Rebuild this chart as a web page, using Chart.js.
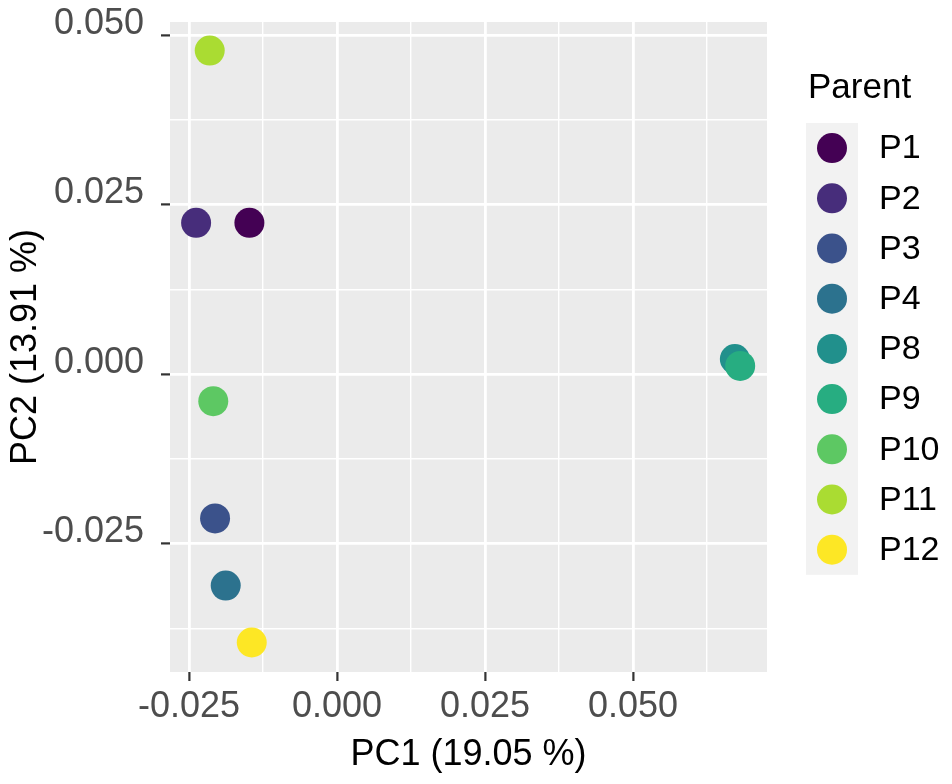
<!DOCTYPE html>
<html>
<head>
<meta charset="utf-8">
<script src="https://cdn.jsdelivr.net/npm/chart.js@4.4.1/dist/chart.umd.min.js"></script>
<style>
  html, body { margin: 0; padding: 0; background: #ffffff; }
  #wrap { width: 952px; height: 784px; position: relative; }
</style>
</head>
<body>
<div id="wrap"><canvas id="c" width="952" height="784"></canvas></div>
<script>
// ---- Data ----
const parents = ['P1', 'P2', 'P3', 'P4', 'P8', 'P9', 'P10', 'P11', 'P12'];
const pc1 = [-0.0148, -0.0238, -0.0206, -0.0188, 0.0672, 0.0681, -0.0209, -0.0215, -0.0144];
const pc2 = [0.0223, 0.0223, -0.0213, -0.0312, 0.0022, 0.0012, -0.0040, 0.0477, -0.0396];
const colors = ['#440154', '#472D7B', '#3B528B', '#2C728E', '#21908C', '#27AD81', '#5DC863', '#AADC32', '#FDE725'];
const xTickValues = [-0.025, 0.000, 0.025, 0.050];
const xTickLabels = ['-0.025', '0.000', '0.025', '0.050'];
const xMinorValues = [-0.0125, 0.0125, 0.0375, 0.0625];
const yTickValues = [-0.025, 0.000, 0.025, 0.050];
const yTickLabels = ['-0.025', '0.000', '0.025', '0.050'];
const yMinorValues = [-0.0375, -0.0125, 0.0125, 0.0375];
const xTitle = 'PC1 (19.05 %)';
const yTitle = 'PC2 (13.91 %)';
const legendTitle = 'Parent';

const FONT = "'Liberation Sans', Arial, Helvetica, sans-serif";

function labelFor(values, labels, v) {
  for (let i = 0; i < values.length; i++) {
    if (Math.abs(values[i] - v) < 1e-9) return labels[i];
  }
  return '';
}
function isMajor(values, v) {
  return values.some(t => Math.abs(t - v) < 1e-9);
}
function setTicks(major, minor) {
  return (scale) => {
    scale.ticks = major.concat(minor).sort((a, b) => a - b).map(v => ({ value: v }));
  };
}

const panelBg = {
  id: 'panelBg',
  beforeDraw(chart) {
    const { ctx, chartArea: a } = chart;
    ctx.save();
    ctx.fillStyle = '#ffffff';
    ctx.fillRect(0, 0, chart.width, chart.height);
    ctx.fillStyle = '#EBEBEB';
    ctx.fillRect(a.left, a.top, a.right - a.left, a.bottom - a.top);
    ctx.restore();
  }
};

const customLegend = {
  id: 'customLegend',
  afterDraw(chart) {
    const ctx = chart.ctx;
    const x0 = 806, top = 123, keyW = 52, keyH = 50.2;
    ctx.save();
    ctx.fillStyle = '#000000';
    ctx.font = '35px ' + FONT;
    ctx.textBaseline = 'alphabetic';
    ctx.textAlign = 'left';
    ctx.fillText(legendTitle, 808, 98);
    ctx.fillStyle = '#F2F2F2';
    ctx.fillRect(x0, top, keyW, keyH * parents.length);
    ctx.font = '34px ' + FONT;
    ctx.textBaseline = 'middle';
    parents.forEach((p, i) => {
      const cy = top + keyH * i + keyH / 2;
      ctx.beginPath();
      ctx.arc(x0 + keyW / 2, cy, 15, 0, Math.PI * 2);
      ctx.fillStyle = colors[i];
      ctx.fill();
      ctx.fillStyle = '#000000';
      ctx.fillText(p, 879, cy + 1);
    });
    ctx.restore();
  }
};

const points = pc1.map((x, i) => ({ x: x, y: pc2[i] }));

new Chart(document.getElementById('c'), {
  type: 'scatter',
  data: {
    labels: parents,
    datasets: [{
      label: legendTitle,
      data: points,
      backgroundColor: colors,
      borderWidth: 0,
      pointRadius: 15,
      pointHoverRadius: 15
    }]
  },
  options: {
    responsive: false,
    animation: false,
    devicePixelRatio: 1,
    events: [],
    layout: { padding: { top: 22, right: 185, bottom: 0, left: 0 } },
    plugins: {
      legend: { display: false },
      tooltip: { enabled: false },
      title: { display: false }
    },
    scales: {
      x: {
        type: 'linear',
        position: 'bottom',
        min: -0.02821,
        max: 0.07263,
        bounds: 'data',
        afterBuildTicks: setTicks(xTickValues, xMinorValues),
        afterFit(scale) { scale.height = 112; scale.paddingLeft = 0; scale.paddingRight = 0; },
        ticks: {
          autoSkip: false,
          maxRotation: 0,
          minRotation: 0,
          padding: 4,
          color: '#4D4D4D',
          font: { family: FONT, size: 36 },
          callback: (v) => labelFor(xTickValues, xTickLabels, v)
        },
        grid: {
          color: '#FFFFFF',
          lineWidth: (c) => (c.tick && isMajor(xTickValues, c.tick.value)) ? 2.8 : 1.4,
          drawTicks: true,
          tickLength: 9,
          tickWidth: 2.2,
          tickColor: (c) => (c.tick && isMajor(xTickValues, c.tick.value)) ? '#333333' : 'rgba(0,0,0,0)'
        },
        border: { display: false },
        title: {
          display: true,
          text: xTitle,
          color: '#000000',
          font: { family: FONT, size: 36 },
          padding: { top: 0, bottom: 7 }
        }
      },
      y: {
        type: 'linear',
        position: 'left',
        min: -0.04395,
        max: 0.05192,
        bounds: 'data',
        afterBuildTicks: setTicks(yTickValues, yMinorValues),
        afterFit(scale) { scale.width = 170; scale.paddingTop = 0; scale.paddingBottom = 0; },
        ticks: {
          autoSkip: false,
          padding: 17,
          labelOffset: -11,
          color: '#4D4D4D',
          font: { family: FONT, size: 36 },
          callback: (v) => labelFor(yTickValues, yTickLabels, v)
        },
        grid: {
          color: '#FFFFFF',
          lineWidth: (c) => (c.tick && isMajor(yTickValues, c.tick.value)) ? 2.8 : 1.4,
          drawTicks: true,
          tickLength: 9,
          tickWidth: 2.2,
          tickColor: (c) => (c.tick && isMajor(yTickValues, c.tick.value)) ? '#333333' : 'rgba(0,0,0,0)'
        },
        border: { display: false },
        title: {
          display: true,
          text: yTitle,
          color: '#000000',
          font: { family: FONT, size: 36 },
          padding: { top: 4, bottom: 0 }
        }
      }
    }
  },
  plugins: [panelBg, customLegend]
});
</script>
</body>
</html>
